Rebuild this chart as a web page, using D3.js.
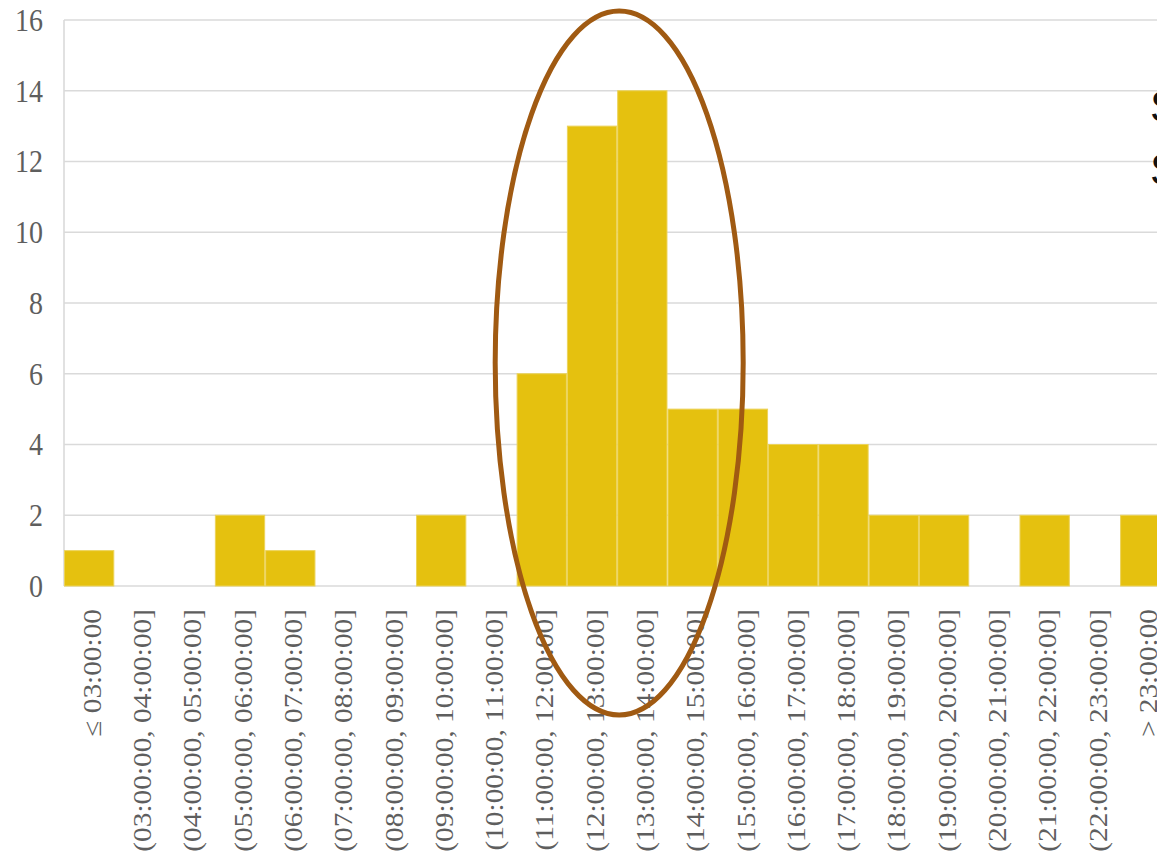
<!DOCTYPE html>
<html>
<head>
<meta charset="utf-8">
<script src="https://cdn.jsdelivr.net/npm/d3@7"></script>
<style>
  html, body { margin: 0; padding: 0; background: #fff; overflow: hidden; }
  svg { display: block; }
</style>
</head>
<body>
<svg id="chart" width="1157" height="856"></svg>
<script>
// Arrival-time histogram: count per hourly interval
const categories = [
  "≤ 03:00:00",
  "(03:00:00, 04:00:00]", "(04:00:00, 05:00:00]", "(05:00:00, 06:00:00]",
  "(06:00:00, 07:00:00]", "(07:00:00, 08:00:00]", "(08:00:00, 09:00:00]",
  "(09:00:00, 10:00:00]", "(10:00:00, 11:00:00]", "(11:00:00, 12:00:00]",
  "(12:00:00, 13:00:00]", "(13:00:00, 14:00:00]", "(14:00:00, 15:00:00]",
  "(15:00:00, 16:00:00]", "(16:00:00, 17:00:00]", "(17:00:00, 18:00:00]",
  "(18:00:00, 19:00:00]", "(19:00:00, 20:00:00]", "(20:00:00, 21:00:00]",
  "(21:00:00, 22:00:00]", "(22:00:00, 23:00:00]",
  "> 23:00:00"
];
const counts = [1, 0, 0, 2, 1, 0, 0, 2, 0, 6, 13, 14, 5, 5, 4, 4, 2, 2, 0, 2, 0, 2];
const yTicks = [0, 2, 4, 6, 8, 10, 12, 14, 16];
// the peak intervals circled on the chart
const highlight = ["(12:00:00, 13:00:00]", "(13:00:00, 14:00:00]"];

const svg = d3.select("#chart");
const margin = { left: 64, top: 20, bottom: 586 };
const step = 50.29;
const plotRight = margin.left + step * categories.length;
const stretch = 1.15;

const x = d3.scaleBand().domain(categories).range([margin.left, plotRight]).padding(0);
const y = d3.scaleLinear().domain([0, 16]).range([margin.bottom, margin.top]);

// horizontal grid
const grid = svg.append("g");
grid.selectAll("line").data(yTicks).join("line")
  .attr("x1", margin.left).attr("x2", plotRight)
  .attr("y1", d => y(d)).attr("y2", d => y(d))
  .attr("stroke", "#dadada").attr("stroke-width", 1.6);
grid.append("line")
  .attr("x1", margin.left).attr("x2", margin.left)
  .attr("y1", y(16)).attr("y2", y(0))
  .attr("stroke", "#dadada").attr("stroke-width", 1.6);

// bars
svg.append("g").selectAll("rect").data(categories).join("rect")
  .attr("x", d => x(d) + 0.5)
  .attr("width", x.bandwidth() - 1)
  .attr("y", (d, i) => y(counts[i]))
  .attr("height", (d, i) => y(0) - y(counts[i]))
  .attr("fill", "#E5C10F")
  .attr("stroke", "#ecd35a")
  .attr("stroke-width", 1);

// y tick labels
const yAxis = svg.append("g");
yAxis.selectAll("g").data(yTicks).join("g")
  .attr("transform", d => `translate(43,${y(d)}) scale(1,${stretch})`)
  .append("text")
  .attr("text-anchor", "end")
  .attr("dy", "0.34em")
  .attr("font-family", "'Liberation Serif', 'Times New Roman', serif")
  .attr("font-size", 28)
  .attr("fill", "#5e5e5e")
  .text(d => d);

// x tick labels, rotated
const xAxis = svg.append("g");
xAxis.selectAll("g").data(categories).join("g")
  .attr("transform", d => `translate(${x(d) + x.bandwidth() / 2 + 3},609) scale(1,${stretch}) rotate(-90)`)
  .append("text")
  .attr("text-anchor", "end")
  .attr("dy", "0.34em")
  .attr("font-family", "'Liberation Serif', 'Times New Roman', serif")
  .attr("font-size", 25.5)
  .attr("fill", "#5e5e5e")
  .text(d => d);

// highlight ellipse around the peak
const x0 = x(highlight[0]), x1 = x(highlight[1]) + x.bandwidth();
svg.append("ellipse")
  .attr("cx", (x0 + x1) / 2 + 2)
  .attr("cy", 363)
  .attr("rx", 124)
  .attr("ry", 352)
  .attr("fill", "none")
  .attr("stroke", "#A05A12")
  .attr("stroke-width", 5);

// neighbouring caption, running off the right edge
svg.append("text").attr("x", 1150).attr("y", 122)
  .attr("font-family", "'Liberation Sans', Arial, sans-serif")
  .attr("font-size", 44).attr("fill", "#111").text("S");
svg.append("text").attr("x", 1150).attr("y", 185)
  .attr("font-family", "'Liberation Sans', Arial, sans-serif")
  .attr("font-size", 44).attr("fill", "#111").text("S");
</script>
</body>
</html>
